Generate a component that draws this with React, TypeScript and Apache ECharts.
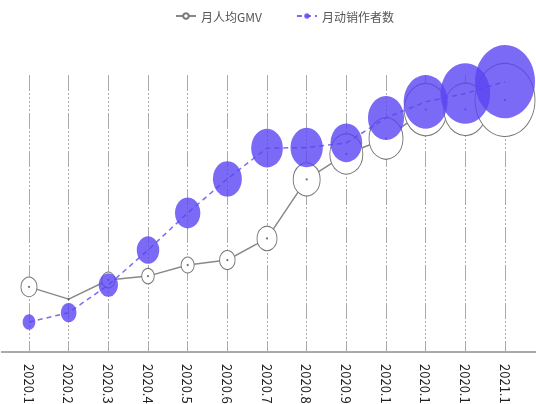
import React, { useEffect, useRef } from "react";
import * as echarts from "echarts";

const categories = [
  "2020.1", "2020.2", "2020.3", "2020.4", "2020.5", "2020.6", "2020.7",
  "2020.8", "2020.9", "2020.10", "2020.11", "2020.12", "2021.1",
];
// 月人均GMV
const gmvValues = [117.5, 95.5, 130, 137, 157, 166, 205, 311.5, 357.5, 385.5, 437.5, 438, 455];
// 月动销作者数
const authorValues = [1080, 1420, 2420, 3680, 5020, 6250, 7360, 7380, 7550, 8450, 9030, 9330, 9760];
// bubble size measures
const gmvBubble = [16, 0, 13, 12.5, 13, 15.5, 20, 27, 33, 34, 43, 43, 60];
const authorBubble = [12.7, 15.7, 19.3, 22.5, 25.4, 29, 31.7, 32.3, 31.7, 36, 44, 49.7, 60];

const seriesNames = ["月人均GMV", "月动销作者数"];
const ASPECT = 1.22;

export default function App() {
  const ref = useRef<HTMLDivElement>(null);
  useEffect(() => {
    if (!ref.current) return;
    const chart = echarts.init(ref.current, undefined, { renderer: "svg" });
    const dash = [16, 2, 2, 2, 2, 2, 2, 2, 2, 2, 2, 2];
    chart.setOption({
      animation: false,
      textStyle: { fontFamily: "'Noto Sans CJK SC', 'Noto Sans', sans-serif" },
      legend: {
        data: seriesNames,
        top: 10,
        left: 175,
        padding: 0,
        itemWidth: 20,
        itemHeight: 7,
        itemGap: 34,
        textStyle: { color: "#555", fontSize: 12 },
      },
      grid: { left: 29, right: 31, top: 75, bottom: 52, outerBoundsMode: "none", containLabel: false },
      xAxis: {
        type: "category",
        data: categories,
        boundaryGap: false,
        axisLine: { show: false },
        axisTick: { show: false },
        axisLabel: { rotate: -90, margin: 12, fontSize: 13, color: "#222", interval: 0 },
        splitLine: { show: true, interval: 0, lineStyle: { color: "#aaa", width: 1, type: dash } },
      },
      yAxis: [
        { type: "value", min: 0, max: 500, show: false, splitLine: { show: false } },
        { type: "value", min: 0, max: 10000, show: false, splitLine: { show: false } },
      ],
      graphic: [
        { type: "line", shape: { x1: 1, y1: 352, x2: 536, y2: 352 }, style: { stroke: "#aaa", lineWidth: 2 }, z: 1 },
      ],
      series: [
        {
          name: seriesNames[0],
          type: "line",
          yAxisIndex: 0,
          data: gmvValues,
          symbol: "circle",
          showAllSymbol: true,
          symbolSize: (_v: any, p: any) => [gmvBubble[p.dataIndex], gmvBubble[p.dataIndex] * ASPECT],
          itemStyle: { color: "#fff", borderColor: "#777", borderWidth: 1 },
          lineStyle: { color: "#888", width: 1.5 },
          z: 2,
        },
        {
          name: "gmv-center",
          type: "scatter",
          yAxisIndex: 0,
          data: gmvValues,
          symbolSize: 2,
          itemStyle: { color: "#444" },
          silent: true,
          z: 3,
        },
        {
          name: seriesNames[1],
          type: "line",
          yAxisIndex: 1,
          data: authorValues,
          symbol: "circle",
          showAllSymbol: true,
          symbolSize: (_v: any, p: any) => [authorBubble[p.dataIndex], authorBubble[p.dataIndex] * ASPECT],
          itemStyle: { color: "#5a45f2", opacity: 0.8 },
          lineStyle: { color: "#7b6cf6", width: 1.5, type: [5, 4] },
          z: 4,
        },
      ],
    });
    return () => chart.dispose();
  }, []);
  return (
    <div
      ref={ref}
      style={{ position: "fixed", left: 0, top: 0, width: 536, height: 404 }}
    />
  );
}
